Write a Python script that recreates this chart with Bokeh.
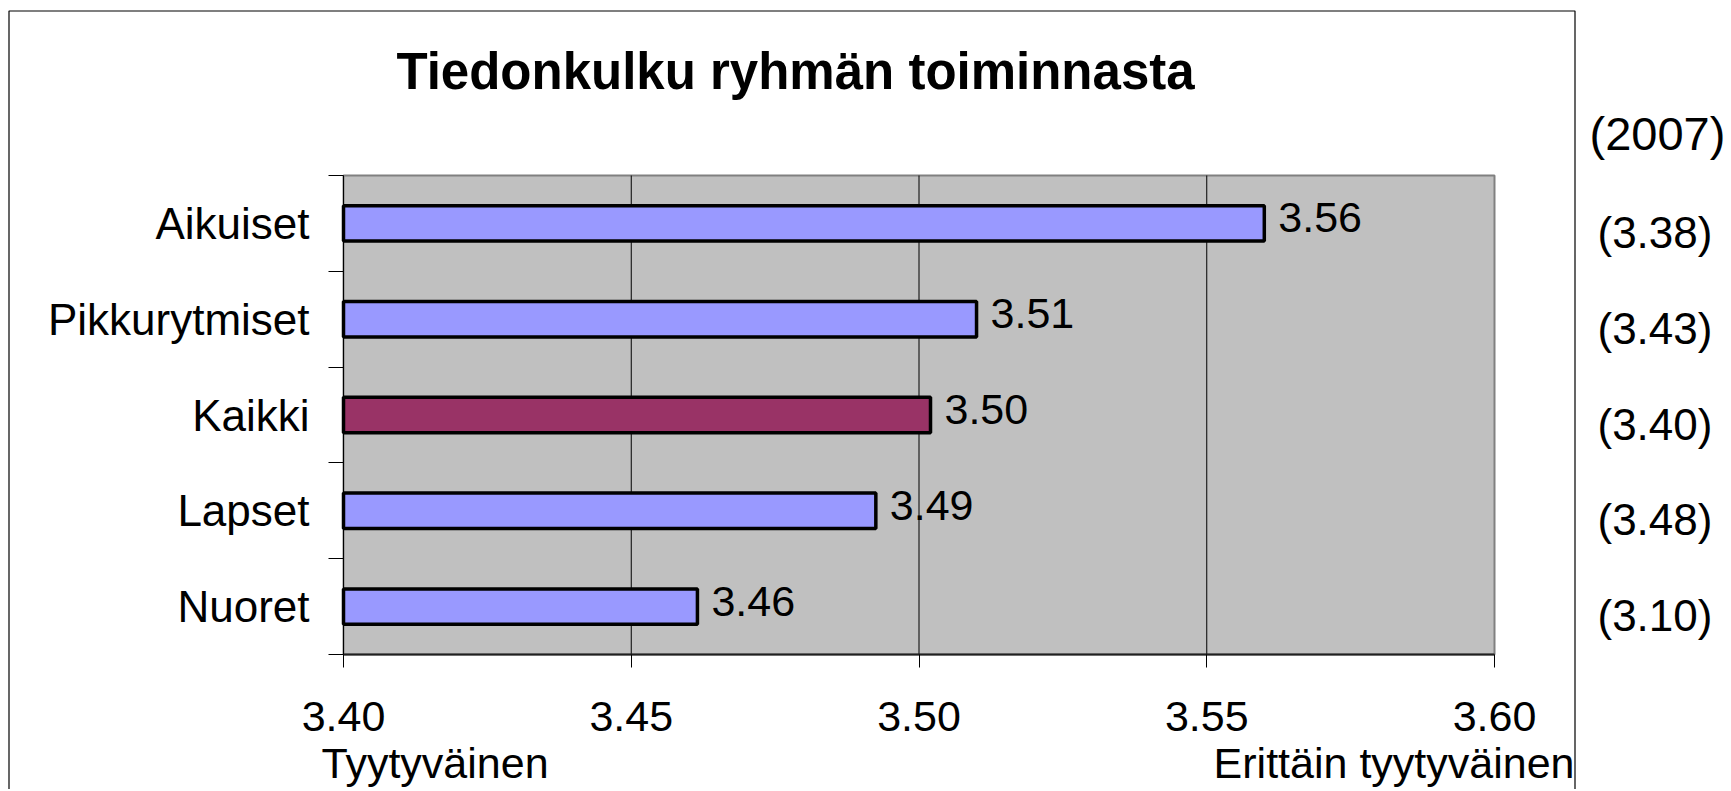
from bokeh.plotting import figure
from bokeh.models import (FixedTicker, Label, LabelSet, ColumnDataSource,
                          BoxAnnotation, NumeralTickFormatter, Range1d)
from bokeh.embed import file_html
from bokeh.resources import INLINE
from bokeh.core.properties import value

# ---------------- data ----------------
title_text = "Tiedonkulku ryhmän toiminnasta"
categories = ["Aikuiset", "Pikkurytmiset", "Kaikki", "Lapset", "Nuoret"]
scores = [3.560, 3.510, 3.502, 3.4925, 3.4615]
prev_header = "(2007)"
prev_scores = ["(3.38)", "(3.43)", "(3.40)", "(3.48)", "(3.10)"]
highlight = "Kaikki"
x_ticks = [3.40, 3.45, 3.50, 3.55, 3.60]
low_label = "Tyytyväinen"
high_label = "Erittäin tyytyväinen"

# ---------------- layout (pixels) ----------------
FONT = "Liberation Sans"
W, H = 1729, 789
PL, PR, PT, PB = 343, 1494, 175, 654      # plot-area edges on the canvas
X0, X1 = x_ticks[0], x_ticks[-1]
n = len(categories)


def xd(px):
    return X0 + (px - PL) * (X1 - X0) / (PR - PL)


def yd(py):
    return (PB - py) * n / (PB - PT)


def ppy(d):
    return d * n / (PB - PT)


centers = [n - i - 0.5 for i in range(n)]
colors = ["#993366" if c == highlight else "#9999FF" for c in categories]
labels = ["%.2f" % v for v in scores]

p = figure(width=W, height=H, title=None,
           x_range=Range1d(xd(0), xd(W)), y_range=Range1d(yd(H), yd(0)),
           output_backend="svg", toolbar_location=None,
           min_border=0, min_border_left=0, min_border_right=0,
           min_border_top=0, min_border_bottom=0,
           background_fill_color="white", border_fill_color="white")
p.outline_line_color = None
p.xgrid.visible = False
p.ygrid.visible = False

# plot area
p.add_layout(BoxAnnotation(left=X0, right=X1, bottom=0, top=n,
                           fill_color="#C0C0C0", fill_alpha=1.0,
                           line_color="#808080", line_alpha=1.0, line_width=2,
                           level="underlay"))

# x axis at the bottom of the plot area
xa = p.xaxis[0]
xa.fixed_location = 0
xa.bounds = (X0, X1)
xa.ticker = FixedTicker(ticks=x_ticks)
xa.formatter = NumeralTickFormatter(format="0.00")
xa.major_tick_out = 13
xa.major_tick_in = 0
xa.minor_tick_out = 0
xa.minor_tick_in = 0
xa.axis_line_color = "#202020"
xa.axis_line_width = 2
xa.major_tick_line_color = "black"
xa.major_label_text_font = FONT
xa.major_label_text_font_size = "43px"
xa.major_label_text_color = "black"
xa.major_label_standoff = 34

# y axis: names at category centres, ticks at boundaries
ya = p.yaxis[0]
ya.fixed_location = X0
ya.bounds = (0, n)
ya.ticker = FixedTicker(ticks=centers, minor_ticks=list(range(n + 1)))
ya.major_label_overrides = {c: name for c, name in zip(centers, categories)}
ya.major_tick_out = 0
ya.major_tick_in = 0
ya.minor_tick_out = 15
ya.minor_tick_in = 0
ya.minor_tick_line_color = "black"
ya.axis_line_color = "black"
ya.axis_line_width = 1
ya.major_label_text_font = FONT
ya.major_label_text_font_size = "44px"
ya.major_label_text_color = "black"
ya.major_label_standoff = 19

# vertical grid lines inside the plot area
inner = [t for t in x_ticks if X0 < t < X1]
p.segment(x0=inner, x1=inner, y0=[0] * len(inner), y1=[n] * len(inner),
          line_color="black", line_width=1)

src = ColumnDataSource(dict(y=centers, right=scores, color=colors, label=labels,
                            ty=[c + ppy(5.5) for c in centers]))
p.hbar(y="y", left=X0, right="right", height=0.37, fill_color="color",
       line_color="black", line_width=3.5, source=src)
p.text(x="right", y="ty", text="label", x_offset=14, text_align="left",
       text_baseline="middle", text_font=value(FONT), text_font_size="43px",
       text_color="black", source=src)

# previous-year column on the right
side_src = ColumnDataSource(dict(x=[xd(1597)] * n, y=[c - ppy(9) for c in centers],
                                 text=prev_scores))
p.add_layout(LabelSet(x="x", y="y", text="text", source=side_src,
                      text_font=value(FONT), text_font_size="44px",
                      text_baseline="middle", text_align="left",
                      text_color="black"))
p.add_layout(Label(x=xd(1589), y=yd(132.5), text=prev_header, text_font=FONT,
                   text_font_size="47px", text_baseline="middle",
                   text_align="left", text_color="black"))

# title
p.add_layout(Label(x=xd(795), y=yd(71), text=title_text, text_font=FONT,
                   text_font_size="51px", text_font_style="bold",
                   text_align="center", text_baseline="middle",
                   text_color="black"))

# scale end descriptions
p.add_layout(Label(x=xd(321), y=yd(762), text=low_label, text_font=FONT,
                   text_font_size="43px", text_align="left",
                   text_baseline="middle", text_color="black"))
p.add_layout(Label(x=xd(1574), y=yd(762), text=high_label, text_font=FONT,
                   text_font_size="43px", text_align="right",
                   text_baseline="middle", text_color="black"))

# chart-area border (bottom edge lies below the page)
p.add_layout(BoxAnnotation(left=xd(8.5), right=xd(1574.5), top=yd(10.5),
                           bottom=yd(H + 60), fill_color=None, fill_alpha=0,
                           line_color="black", line_alpha=1.0, line_width=1.2))

open("out.html", "w").write(file_html(p, INLINE))
